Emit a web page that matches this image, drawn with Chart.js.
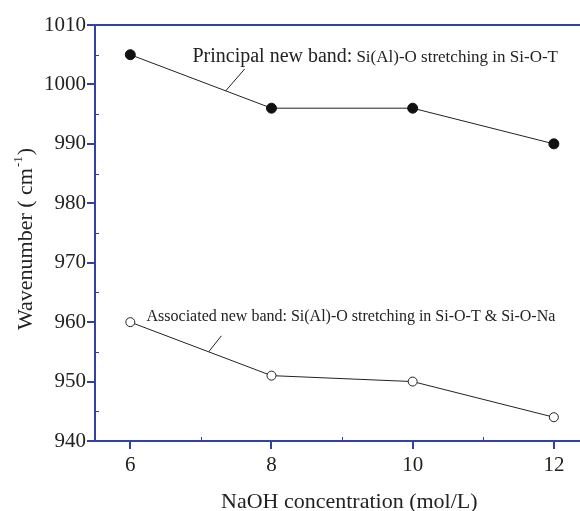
<!DOCTYPE html>
<html>
<head>
<meta charset="utf-8">
<script src="https://cdn.jsdelivr.net/npm/chart.js@4.4.1/dist/chart.umd.min.js"></script>
<style>
  html, body { margin: 0; padding: 0; background: #fff; }
  #wrap { width: 580px; height: 511px; }
</style>
</head>
<body>
<div id="wrap"><canvas id="waveChart" width="580" height="511"></canvas></div>
<script>
// NaOH concentration (mol/L) vs. band position (cm-1)
const naoh = [6, 8, 10, 12];
const principalBand = [1005, 996, 996, 990];
const associatedBand = [960, 951, 950, 944];
const xTicks = [6, 8, 10, 12];
const xMinor = [7, 9, 11];
const yTicks = [940, 950, 960, 970, 980, 990, 1000, 1010];
const yMinor = [945, 955, 965, 975, 985, 995, 1005];

// band labels: text anchor and leader line, in data units
const bandNotes = [
  { x: 6.88, y: 1003.8, head: 'Principal new band:', tail: 'Si(Al)-O stretching in Si-O-T',
    headSize: 20, tailSize: 17, lead: [7.62, 1002.6, 7.35, 998.9] },
  { x: 6.23, y: 960.2, head: 'Associated new band:', tail: 'Si(Al)-O stretching in Si-O-T & Si-O-Na',
    headSize: 16, tailSize: 16, lead: [7.29, 957.7, 7.11, 955.0] }
];

const axisBlue = '#3341a3';
const serif = '"Liberation Serif", "Times New Roman", serif';

const extras = {
  id: 'extras',
  afterDraw(chart) {
    const { ctx, chartArea: a, scales } = chart;
    const xs = scales.x, ys = scales.y;
    ctx.save();

    // top frame line
    ctx.strokeStyle = axisBlue;
    ctx.lineWidth = 2;
    ctx.beginPath();
    ctx.moveTo(a.left - 1, a.top);
    ctx.lineTo(a.right, a.top);
    ctx.stroke();

    // minor ticks, pointing inward
    ctx.lineWidth = 1;
    xMinor.forEach(v => {
      const px = Math.round(xs.getPixelForValue(v)) + 0.5;
      ctx.beginPath();
      ctx.moveTo(px, a.bottom);
      ctx.lineTo(px, a.bottom - 4);
      ctx.stroke();
    });
    yMinor.forEach(v => {
      const py = Math.round(ys.getPixelForValue(v)) + 0.5;
      ctx.beginPath();
      ctx.moveTo(a.left, py);
      ctx.lineTo(a.left + 4, py);
      ctx.stroke();
    });

    // band labels with leader lines
    ctx.fillStyle = '#222';
    ctx.textBaseline = 'alphabetic';
    ctx.textAlign = 'left';
    bandNotes.forEach(n => {
      const tx = xs.getPixelForValue(n.x), ty = ys.getPixelForValue(n.y);
      ctx.font = n.headSize + 'px ' + serif;
      ctx.fillText(n.head, tx, ty);
      const w = ctx.measureText(n.head).width;
      ctx.font = n.tailSize + 'px ' + serif;
      ctx.fillText(n.tail, tx + w + 4, ty);

      ctx.strokeStyle = '#222';
      ctx.lineWidth = 1;
      ctx.beginPath();
      ctx.moveTo(xs.getPixelForValue(n.lead[0]), ys.getPixelForValue(n.lead[1]));
      ctx.lineTo(xs.getPixelForValue(n.lead[2]), ys.getPixelForValue(n.lead[3]));
      ctx.stroke();
    });

    // x axis title
    ctx.font = '22px ' + serif;
    ctx.fillText('NaOH concentration (mol/L)', 221, 508);

    // y axis title with superscript
    ctx.translate(32, 330);
    ctx.rotate(-Math.PI / 2);
    ctx.font = '22px ' + serif;
    const main = 'Wavenumber ( cm';
    ctx.fillText(main, 0, 0);
    let off = ctx.measureText(main).width + 1;
    ctx.font = '13px ' + serif;
    ctx.fillText('-1', off, -10);
    off += ctx.measureText('-1').width + 1;
    ctx.font = '22px ' + serif;
    ctx.fillText(')', off, 0);

    ctx.restore();
  }
};

new Chart(document.getElementById('waveChart'), {
  type: 'line',
  data: {
    datasets: [
      {
        label: 'Principal new band',
        data: naoh.map((x, i) => ({ x, y: principalBand[i] })),
        borderColor: '#222',
        borderWidth: 1,
        pointRadius: 5,
        pointBackgroundColor: '#111',
        pointBorderColor: '#111',
        pointBorderWidth: 1
      },
      {
        label: 'Associated new band',
        data: naoh.map((x, i) => ({ x, y: associatedBand[i] })),
        borderColor: '#222',
        borderWidth: 1,
        pointRadius: 4.5,
        pointBackgroundColor: '#fff',
        pointBorderColor: '#222',
        pointBorderWidth: 1
      }
    ]
  },
  options: {
    responsive: false,
    animation: false,
    layout: { autoPadding: false, padding: { top: 25, right: 0, left: 0, bottom: 0 } },
    plugins: { legend: { display: false }, tooltip: { enabled: false } },
    scales: {
      x: {
        type: 'linear',
        min: 5.5,
        max: 12.37,
        afterBuildTicks: s => { s.ticks = xTicks.map(v => ({ value: v })); },
        afterFit: s => { s.height = 70; s.paddingLeft = 0; s.paddingRight = 0; },
        grid: { drawOnChartArea: false, drawTicks: true, tickLength: 8, color: axisBlue, lineWidth: 2 },
        border: { color: axisBlue, width: 2 },
        ticks: { color: '#222', font: { family: serif, size: 21 }, padding: 4, maxRotation: 0,
                 callback: v => String(v) }
      },
      y: {
        min: 940,
        max: 1010,
        afterBuildTicks: s => { s.ticks = yTicks.map(v => ({ value: v })); },
        afterFit: s => { s.width = 95; s.paddingTop = 0; s.paddingBottom = 0; },
        grid: { drawOnChartArea: false, drawTicks: true, tickLength: 8, color: axisBlue, lineWidth: 2 },
        border: { color: axisBlue, width: 2 },
        ticks: { color: '#222', font: { family: serif, size: 21 }, padding: 1,
                 callback: v => String(v) }
      }
    }
  },
  plugins: [extras]
});
</script>
</body>
</html>
